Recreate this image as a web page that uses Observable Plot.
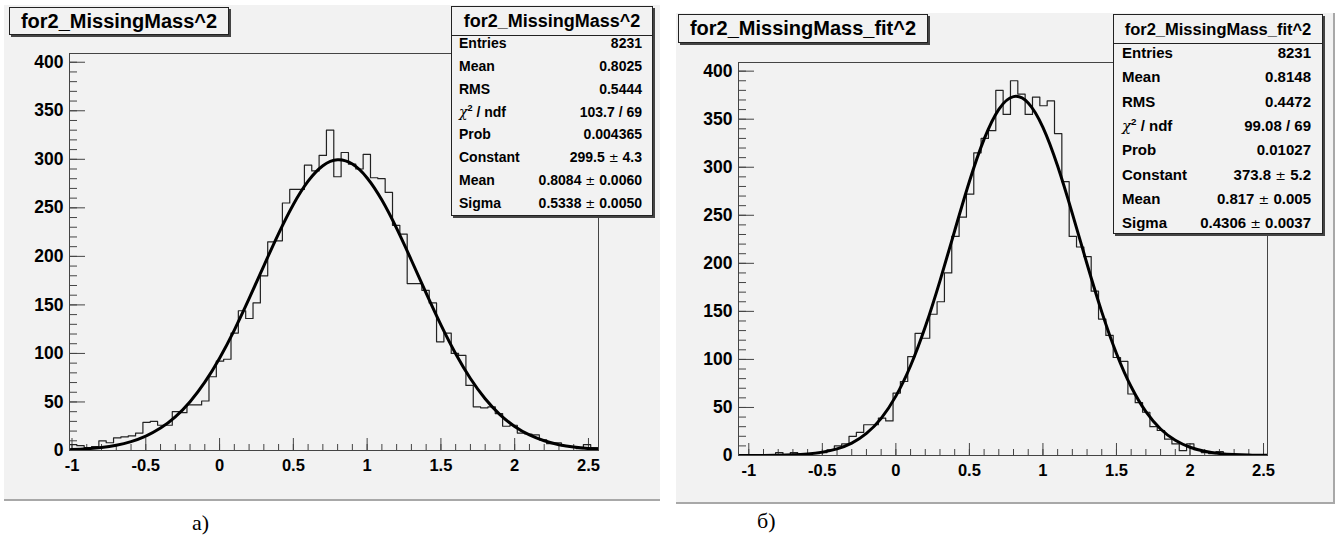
<!DOCTYPE html>
<html><head><meta charset="utf-8">
<script src="https://cdn.jsdelivr.net/npm/d3@7"></script>
<script src="https://cdn.jsdelivr.net/npm/@observablehq/plot@0.6"></script>
<style>
body{margin:0;background:#fff;width:1335px;height:537px;position:relative;overflow:hidden;font-family:"Liberation Sans",Arial,sans-serif;}
.panel{position:absolute;background:#f2f2f2;}
.panel svg{display:block;overflow:visible;}
.panel svg text{font-weight:bold !important;font-size:16.5px;font-family:"Liberation Sans",Arial,sans-serif;fill:#000;}
.panel svg g[aria-label="y-axis tick label"] text{font-size:17.5px;}
.hline{position:absolute;background:#a8a8a8;}
.tbox{position:absolute;background:#f2f2f2;border:1px solid #222;box-shadow:2px 2px 0 #444;font-weight:bold;text-align:center;box-sizing:border-box;color:#000;white-space:nowrap;}
.sbox{position:absolute;background:#f2f2f2;border:1px solid #222;box-shadow:2px 2px 0 #444;box-sizing:border-box;color:#000;font-weight:bold;white-space:nowrap;}
.sbox .st{position:absolute;left:0;right:0;top:0;border-bottom:1px solid #222;text-align:center;}
.sbox .row{position:absolute;left:0;right:0;height:22px;line-height:22px;}
.sbox .lab{position:absolute;}
.sbox .val{position:absolute;text-align:right;}
.pm{font-weight:normal;font-family:"DejaVu Sans",sans-serif;font-size:0.85em;}
.chi{font-family:"DejaVu Serif",serif;font-weight:normal;font-style:italic;}
.cap{position:absolute;font-family:"Liberation Serif","Times New Roman",serif;font-size:22px;color:#000;}
</style></head>
<body>
<div id="pl" class="panel" style="left:4px;top:5px;width:656px;height:495px;"></div>
<div class="hline" style="left:4px;top:499px;width:656px;height:2px;"></div>
<div id="pr" class="panel" style="left:676px;top:13px;width:657px;height:490px;"></div>
<div class="hline" style="left:676px;top:502px;width:659px;height:2px;"></div>
<div class="hline" style="left:1333px;top:13px;width:2px;height:491px;"></div>
<div class="cap" style="left:192px;top:510px;">a)</div>
<div class="cap" style="left:757px;top:508px;">б)</div>
<script>
// ---------- data ----------
const leftTitle = "for2_MissingMass^2";
const rightTitle = "for2_MissingMass_fit^2";

const leftBinStart = -1.017;
const leftBinWidth = 0.04975;
const leftCounts = [6,5,3,4,10,8,13,14,15,18,29,30,26,26,40,39,47,47,51,76,92,94,121,144,136,152,180,215,216,255,269,269,294,288,304,330,282,307,295,290,305,281,280,266,232,223,172,172,165,152,112,121,100,98,67,45,44,45,38,25,26,18,17,16,11,7,8,5,4,2,6,3];

const rightBinStart = -1.067;
const rightBinWidth = 0.0499;
const rightCounts = [1,1,0,1,1,3,1,3,1,1,2,3,6,10,12,20,24,32,32,39,36,65,77,103,127,122,147,160,190,228,248,272,315,330,338,380,355,390,376,355,373,364,369,335,285,228,217,207,171,142,125,102,98,64,55,45,30,26,17,12,5,12,6,3,2,4,2,1,1,1,1,0];

const leftFitX = [-1.017,-1.0,-0.9,-0.8,-0.7,-0.6,-0.5,-0.4,-0.3,-0.2,-0.1,0.0,0.1,0.2,0.3,0.4,0.5,0.6,0.7,0.8,0.9,1.0,1.1,1.2,1.3,1.4,1.5,1.6,1.7,1.8,1.9,2.0,2.1,2.2,2.3,2.4,2.5,2.565];
const leftFitY = [0.85,0.96,1.78,3.2,5.5,9.2,14.9,23.1,34.7,50.3,70.4,95.1,124.1,156.4,190.3,223.5,253.5,277.5,293.4,299.5,295.1,280.8,258.0,228.8,196.0,162.1,129.4,99.7,74.2,53.3,37.0,24.8,16.0,10.0,6.0,3.5,2.0,1.35];

const rightFitX = [-1.067,-1.0,-0.9,-0.8,-0.7,-0.6,-0.5,-0.4,-0.3,-0.2,-0.1,0.0,0.1,0.2,0.3,0.4,0.5,0.6,0.7,0.8,0.9,1.0,1.1,1.2,1.3,1.4,1.5,1.6,1.7,1.8,1.9,2.0,2.1,2.2,2.3,2.4,2.5,2.526];
const rightFitY = [0.03,0.05,0.13,0.32,0.75,1.66,3.5,6.9,12.9,23.0,38.7,61.8,93.4,133.9,181.8,233.9,285.1,329.2,360.3,373.5,366.9,341.5,301.2,251.7,199.3,149.5,106.2,71.5,45.6,27.6,15.8,8.6,4.4,2.2,1.0,0.43,0.18,0.15];

const xMajorTicks = [-1,-0.5,0,0.5,1,1.5,2,2.5];
const xMinorTicks = d3.range(-10, 26).map(i => i / 10);
const yMajorTicks = [0,50,100,150,200,250,300,350,400];
const yMinorTicks = d3.range(0, 41).map(i => i * 10);

const statLabels = ["Entries","Mean","RMS","CHI","Prob","Constant","Mean","Sigma"];
const leftStats = ["8231","0.8025","0.5444","103.7 / 69","0.004365","299.5 ± 4.3","0.8084 ± 0.0060","0.5338 ± 0.0050"];
const rightStats = ["8231","0.8148","0.4472","99.08 / 69","0.01027","373.8 ± 5.2","0.817 ± 0.005","0.4306 ± 0.0037"];

// ---------- drawing ----------
function histPoints(start, width, counts) {
  const pts = counts.map((c, i) => ({x: start + i * width, y: c}));
  pts.push({x: start + counts.length * width, y: counts[counts.length - 1]});
  return pts;
}

function makePanel(o) {
  const hist = histPoints(o.start, o.width, o.counts);
  const fit = o.fitX.map((x, i) => ({x, y: o.fitY[i]}));
  const txt = {fontWeight: "bold", fill: "#000"};
  return Plot.plot({
    width: o.w, height: o.h,
    marginLeft: o.ml, marginRight: o.mr, marginTop: o.mt, marginBottom: o.mb,
    x: {domain: o.xDomain, axis: null},
    y: {domain: o.yDomain, axis: null},
    style: {background: "transparent", color: "#000", fontFamily: "'Liberation Sans', Arial, sans-serif", fontSize: "16px", fontWeight: "bold", overflow: "visible"},
    marks: [
      Plot.axisX({ticks: xMinorTicks, tickSize: -6, tickFormat: () => "", stroke: "#444", label: null}),
      Plot.axisX({ticks: xMajorTicks, tickSize: -12, tickPadding: 21, tickFormat: d => String(d), stroke: "#444", label: null, ...txt}),
      Plot.axisY({ticks: yMinorTicks, tickSize: -8, tickFormat: () => "", stroke: "#444", label: null}),
      Plot.axisY({ticks: yMajorTicks, tickSize: -16, tickPadding: 22, tickFormat: d => String(d), stroke: "#444", label: null, ...txt}),
      Plot.line(hist, {x: "x", y: "y", curve: "step-after", stroke: "#222", strokeWidth: 1.2, clip: true}),
      Plot.line(fit, {x: "x", y: "y", curve: "natural", stroke: "#000", strokeWidth: 3, clip: true}),
      Plot.frame({stroke: "#444", strokeWidth: 1})
    ]
  });
}

document.getElementById("pl").appendChild(makePanel({
  start: leftBinStart, width: leftBinWidth, counts: leftCounts, fitX: leftFitX, fitY: leftFitY,
  w: 656, h: 495, ml: 65, mr: 62, mt: 48, mb: 50,
  xDomain: [-1.017, 2.568], yDomain: [0, 409]
}));
document.getElementById("pr").appendChild(makePanel({
  start: rightBinStart, width: rightBinWidth, counts: rightCounts, fitX: rightFitX, fitY: rightFitY,
  w: 657, h: 490, ml: 62, mr: 66, mt: 49, mb: 48,
  xDomain: [-1.07, 2.527], yDomain: [0, 409]
}));

function titleBox(text, left, top, w, h, fs) {
  const d = document.createElement("div");
  d.className = "tbox";
  Object.assign(d.style, {left: left + "px", top: top + "px", width: w + "px", height: h + "px", fontSize: fs + "px", lineHeight: (h - 2) + "px"});
  d.textContent = text;
  document.body.appendChild(d);
}
function fmtVal(v) {
  return v.replace("±", '<span class="pm">±</span>');
}
function statBox(title, values, o) {
  const d = document.createElement("div");
  d.className = "sbox";
  Object.assign(d.style, {left: o.left + "px", top: o.top + "px", width: o.w + "px", height: o.h + "px", fontSize: o.fs + "px"});
  const t = document.createElement("div");
  t.className = "st";
  Object.assign(t.style, {height: o.th + "px", lineHeight: o.th + "px", fontSize: o.tfs + "px"});
  t.textContent = title;
  d.appendChild(t);
  statLabels.forEach((lab, i) => {
    const r = document.createElement("div");
    r.className = "row";
    r.style.top = (o.r0 + i * o.rs - 11) + "px";
    const l = document.createElement("span");
    l.className = "lab";
    l.style.left = o.pl + "px";
    l.innerHTML = lab === "CHI" ? '<span class="chi">χ</span><sup style="font-size:0.65em;line-height:0">2</sup> / ndf' : lab;
    const v = document.createElement("span");
    v.className = "val";
    v.style.right = o.pr + "px";
    v.innerHTML = fmtVal(values[i]);
    r.appendChild(l); r.appendChild(v);
    d.appendChild(r);
  });
  document.body.appendChild(d);
}

titleBox(leftTitle, 9, 7, 220, 28, 20);
titleBox(rightTitle, 678, 14, 250, 29, 20);
statBox(leftTitle, leftStats, {left: 451, top: 6, w: 202, h: 210, th: 28, tfs: 18, fs: 14, r0: 36, rs: 22.85, pl: 7, pr: 10});
statBox(rightTitle, rightStats, {left: 1113, top: 14, w: 210, h: 220, th: 28, tfs: 16.5, fs: 15, r0: 38, rs: 24.3, pl: 8, pr: 11});
</script>
</body></html>
